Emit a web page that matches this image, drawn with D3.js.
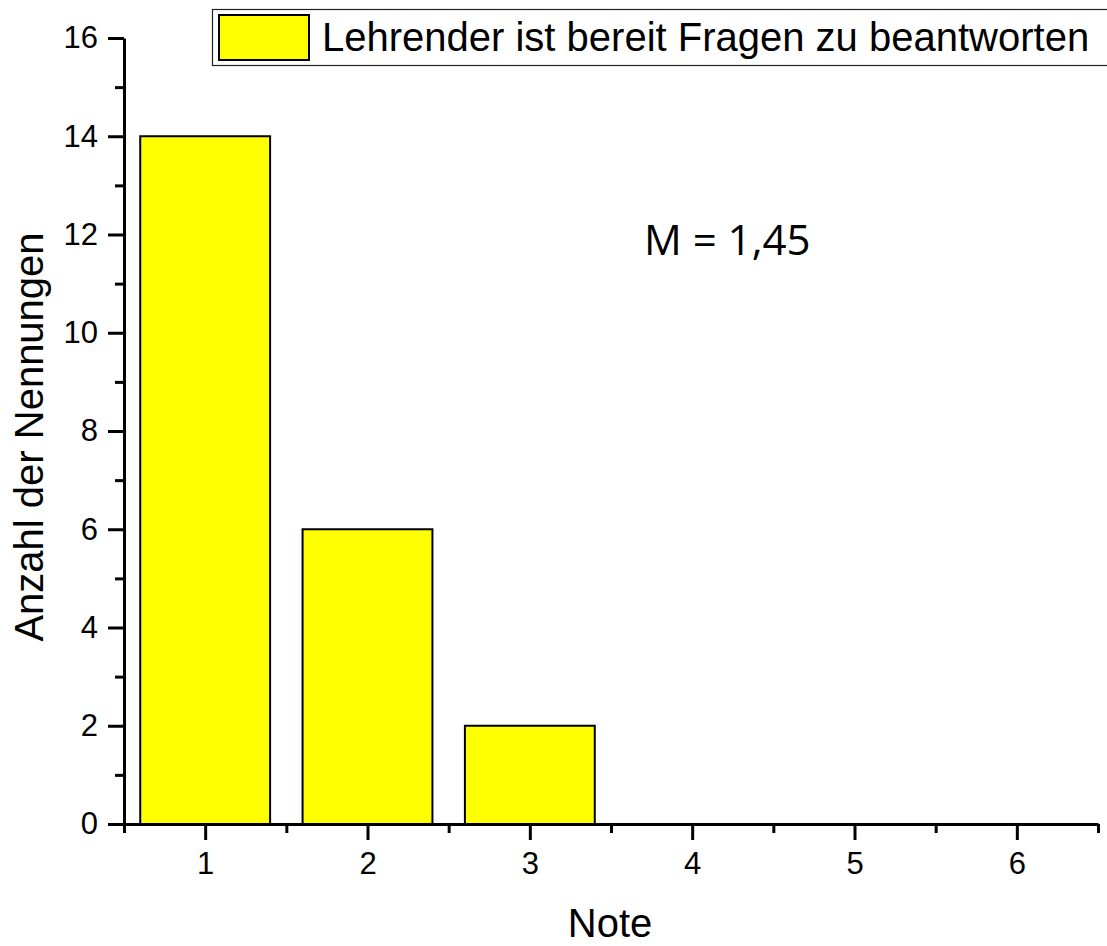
<!DOCTYPE html>
<html>
<head>
<meta charset="utf-8">
<script src="https://cdn.jsdelivr.net/npm/d3@7"></script>
<style>
  body { margin: 0; background: #fff; }
  svg { display: block; font-family: "Liberation Sans", Arial, sans-serif; }
</style>
</head>
<body>
<svg id="chart" width="1107" height="946"></svg>
<script>
// data
const notes = [1, 2, 3, 4, 5, 6];
const counts = [14, 6, 2, 0, 0, 0];
const yTicks = [0, 2, 4, 6, 8, 10, 12, 14, 16];
const legendLabel = "Lehrender ist bereit Fragen zu beantworten";
const meanLabel = "M = 1,45";

const plotLeft = 124, plotRight = 1098, plotTop = 38, plotBottom = 824;
const barWidth = 0.8;

const svg = d3.select("svg#chart");

const x = d3.scaleLinear().domain([0.5, 6.5]).range([plotLeft, plotRight]);
const y = d3.scaleLinear().domain([0, 16]).range([plotBottom, plotTop]);

// bars
svg.append("g")
  .selectAll("rect")
  .data(notes.map((n, i) => ({ note: n, count: counts[i] })).filter(d => d.count > 0))
  .enter().append("rect")
    .attr("x", d => x(d.note - barWidth / 2))
    .attr("y", d => y(d.count))
    .attr("width", d => x(d.note + barWidth / 2) - x(d.note - barWidth / 2))
    .attr("height", d => y(0) - y(d.count))
    .attr("fill", "#ffff00")
    .attr("stroke", "#000")
    .attr("stroke-width", 2);

// minor ticks
const minorX = d3.range(0.5, 6.51, 1);
const minorY = d3.range(1, 16, 2);

svg.append("g")
  .attr("transform", `translate(0,${plotBottom})`)
  .call(d3.axisBottom(x).tickValues(minorX).tickFormat("").tickSize(9).tickSizeOuter(0))
  .call(g => g.select(".domain").remove())
  .selectAll("line").attr("stroke-width", 3);

svg.append("g")
  .attr("transform", `translate(${plotLeft},0)`)
  .call(d3.axisLeft(y).tickValues(minorY).tickFormat("").tickSize(9).tickSizeOuter(0))
  .call(g => g.select(".domain").remove())
  .selectAll("line").attr("stroke-width", 3);

// major axes
const xAxis = svg.append("g")
  .attr("transform", `translate(0,${plotBottom})`)
  .call(d3.axisBottom(x).tickValues(notes).tickFormat(d3.format("d")).tickSize(16).tickSizeOuter(0).tickPadding(12));

const yAxis = svg.append("g")
  .attr("transform", `translate(${plotLeft},0)`)
  .call(d3.axisLeft(y).tickValues(yTicks).tickFormat(d3.format("d")).tickSize(16).tickSizeOuter(0).tickPadding(10));

[xAxis, yAxis].forEach(g => {
  g.attr("font-size", 31).attr("font-family", "'Liberation Sans', Arial, sans-serif");
  g.select(".domain").attr("stroke-width", 3);
  g.selectAll("line").attr("stroke-width", 3);
  g.selectAll("text").attr("fill", "#000");
});

// axis titles
svg.append("text")
  .attr("x", 610)
  .attr("y", 937)
  .attr("text-anchor", "middle")
  .style("font-size", "40px")
  .text("Note");

svg.append("text")
  .attr("transform", `translate(43,${(plotTop + plotBottom) / 2 + 6}) rotate(-90)`)
  .attr("text-anchor", "middle")
  .style("font-size", "40px")
  .text("Anzahl der Nennungen");

// legend
const legend = svg.append("g");
legend.append("rect")
  .attr("x", 212.5).attr("y", 9.5)
  .attr("width", 1000).attr("height", 56)
  .attr("fill", "#fff")
  .attr("stroke", "#222")
  .attr("stroke-width", 1.2);
legend.append("rect")
  .attr("x", 219).attr("y", 15)
  .attr("width", 90).attr("height", 45)
  .attr("fill", "#ffff00")
  .attr("stroke", "#000")
  .attr("stroke-width", 2);
legend.append("text")
  .attr("x", 322).attr("y", 51)
  .style("font-size", "40px")
  .text(legendLabel);

// mean annotation
svg.append("text")
  .attr("x", 644).attr("y", 255)
  .style("font-family", "'Open Sans', 'Noto Sans', sans-serif")
  .style("font-size", "42px")
  .text(meanLabel);
</script>
</body>
</html>
